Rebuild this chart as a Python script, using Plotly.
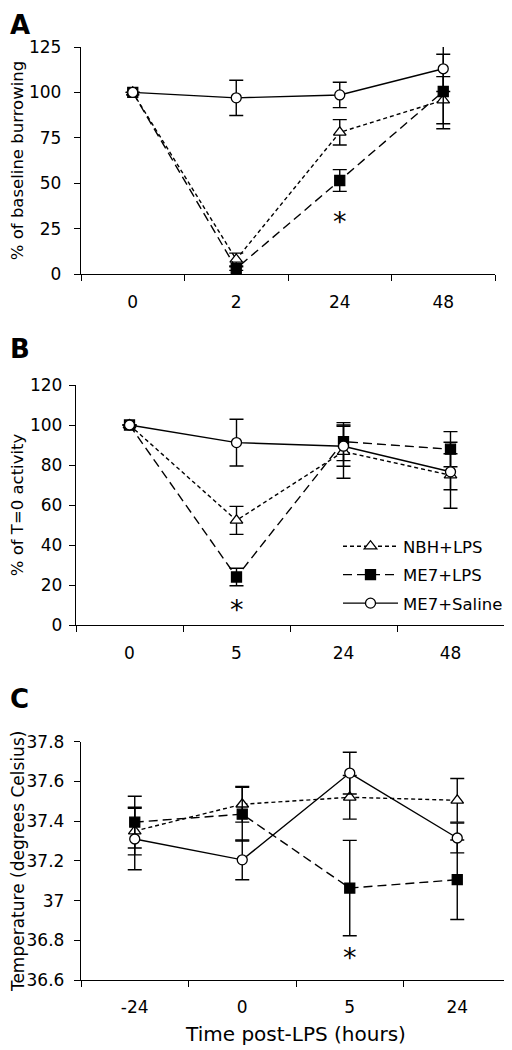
import plotly.graph_objects as go

# page is 512x1050; the html body adds an 8px margin, so the figure itself is 504x1042
PAGE_OFF = 8
W, H = 512 - PAGE_OFF, 1050 - PAGE_OFF

# ---------------- Data ----------------
# Panel A: burrowing
cats_a = ["0", "2", "24", "48"]
nbh_a = [100, 8, 78, 95.7]
nbh_a_err = [0, 3.5, 7, 13]
me7lps_a = [100, 3, 51.5, 100.5]
me7lps_a_err = [0, 1, 6, 20.5]
sal_a = [100, 97, 98.6, 113]
sal_a_err = [0, 9.7, 7, 12.5]

# Panel B: activity
cats_b = ["0", "5", "24", "48"]
nbh_b = [100, 52.3, 86.7, 74.9]
nbh_b_err = [0, 7, 13.3, 16.5]
me7lps_b = [100, 24, 91.7, 87.9]
me7lps_b_err = [0, 4.4, 9.5, 8.8]
sal_b = [100, 91.2, 89.4, 76.6]
sal_b_err = [0, 11.7, 10, 9]

# Panel C: temperature
cats_c = ["-24", "0", "5", "24"]
nbh_c = [37.35, 37.485, 37.52, 37.505]
nbh_c_err = [0.12, 0.09, 0.11, 0.11]
me7lps_c = [37.395, 37.435, 37.063, 37.105]
me7lps_c_err = [0.13, 0.135, 0.24, 0.2]
sal_c = [37.31, 37.205, 37.642, 37.315]
sal_c_err = [0.155, 0.1, 0.105, 0.075]

series_names = ["NBH+LPS", "ME7+LPS", "ME7+Saline"]

# significance markers (category, y)
star_a = ("24", 32)
star_b = ("5", 11)
star_c = ("5", 36.745)

# ---------------- Styles ----------------
styles = {
    "NBH+LPS": dict(dash="4px,3px", symbol="triangle-up", color="white", size=11),
    "ME7+LPS": dict(dash="9px,5px", symbol="square", color="black", size=10),
    "ME7+Saline": dict(dash="solid", symbol="circle", color="white", size=10),
}
FONT = "DejaVu Sans, Verdana, sans-serif"

fig = go.Figure()

panels = [
    ("x", "y", cats_a, [(nbh_a, nbh_a_err), (me7lps_a, me7lps_a_err), (sal_a, sal_a_err)], False),
    ("x2", "y2", cats_b, [(nbh_b, nbh_b_err), (me7lps_b, me7lps_b_err), (sal_b, sal_b_err)], True),
    ("x3", "y3", cats_c, [(nbh_c, nbh_c_err), (me7lps_c, me7lps_c_err), (sal_c, sal_c_err)], False),
]

for xa, ya, cats, data, showleg in panels:
    for name, (vals, errs) in zip(series_names, data):
        st = styles[name]
        fig.add_trace(go.Scatter(
            x=cats, y=vals, xaxis=xa, yaxis=ya, name=name, legendgroup=name,
            mode="lines+markers", showlegend=showleg,
            line=dict(color="black", width=1.4, dash=st["dash"]),
            marker=dict(symbol=st["symbol"], size=st["size"], color=st["color"],
                        line=dict(color="black", width=1.3)),
            error_y=dict(type="data", array=errs, visible=True, color="black",
                         thickness=1.4, width=7),
            cliponaxis=False,
        ))

def px_x(p):
    return (p - PAGE_OFF) / W

def px_y(p):
    return 1 - (p - PAGE_OFF) / H

def xdom(l, r):
    return [px_x(l), px_x(r)]

def ydom(top, bottom):
    return [px_y(bottom), px_y(top)]

axis_common = dict(showline=True, linecolor="black", linewidth=1.4, ticks="outside",
                   tickcolor="black", tickwidth=1.4, ticklen=6, showgrid=False,
                   zeroline=False, automargin=False)

def tf(size):
    return dict(size=size, color="black", family=FONT)

layout = dict(
    width=W, height=H, margin=dict(l=0, r=0, t=0, b=0, autoexpand=False),
    plot_bgcolor="white", paper_bgcolor="white",
    font=dict(family=FONT, color="black"),
    # Panel A
    xaxis=dict(domain=xdom(81, 495), anchor="y", type="category", range=[-0.5, 3.5],
               tickson="boundaries", tickfont=tf(17), ticklabelstandoff=12, **axis_common),
    yaxis=dict(domain=ydom(47, 274), anchor="x", range=[0, 125], tickvals=[0, 25, 50, 75, 100, 125],
               tickfont=tf(17), ticklabelstandoff=9,
               title=dict(text="% of baseline burrowing", font=tf(16.5), standoff=10),
               **axis_common),
    # Panel B
    xaxis2=dict(domain=xdom(76, 504), anchor="y2", type="category", range=[-0.5, 3.5],
                tickson="boundaries", tickfont=tf(17), ticklabelstandoff=12, **axis_common),
    yaxis2=dict(domain=ydom(385, 625), anchor="x2", range=[0, 120], tickvals=[0, 20, 40, 60, 80, 100, 120],
                tickfont=tf(17), ticklabelstandoff=3,
                title=dict(text="% of T=0 activity", font=tf(16.5), standoff=12),
                **axis_common),
    # Panel C
    xaxis3=dict(domain=xdom(81, 511), anchor="y3", type="category", range=[-0.5, 3.5],
                tickson="boundaries", tickfont=tf(17), ticklabelstandoff=11,
                title=dict(text="Time post-LPS (hours)", font=tf(20), standoff=11),
                **axis_common),
    yaxis3=dict(domain=ydom(741.7, 980), anchor="x3", range=[36.6, 37.8],
                tickvals=[36.6, 36.8, 37.0, 37.2, 37.4, 37.6, 37.8],
                ticktext=["36.6", "36.8", "37", "37.2", "37.4", "37.6", "37.8"],
                tickfont=tf(17), ticklabelstandoff=6,
                title=dict(text="Temperature (degrees Celsius)", font=tf(17), standoff=2),
                **axis_common),
    legend=dict(x=px_x(338), y=px_y(529), xanchor="left", yanchor="top",
                bgcolor="rgba(0,0,0,0)", borderwidth=0, itemwidth=55,
                font=tf(16.5), tracegroupgap=4),
)
fig.update_layout(**layout)

# asterisks (category index positions)
for (cx, cy), cats, xr, yr in [(star_a, cats_a, "x", "y"), (star_b, cats_b, "x2", "y2"),
                               (star_c, cats_c, "x3", "y3")]:
    fig.add_annotation(x=cats.index(cx), y=cy, xref=xr, yref=yr, text="*", showarrow=False,
                       font=dict(size=27, family=FONT, color="black"), yshift=-6)

# panel letters
for letter, ypx in [("A", 25), ("B", 349), ("C", 699)]:
    fig.add_annotation(x=0, y=px_y(ypx), xref="paper", yref="paper", text=f"<b>{letter}</b>",
                       showarrow=False, xanchor="left", yanchor="middle",
                       font=dict(size=26, family=FONT, color="black"))

fig.write_html("out.html")
